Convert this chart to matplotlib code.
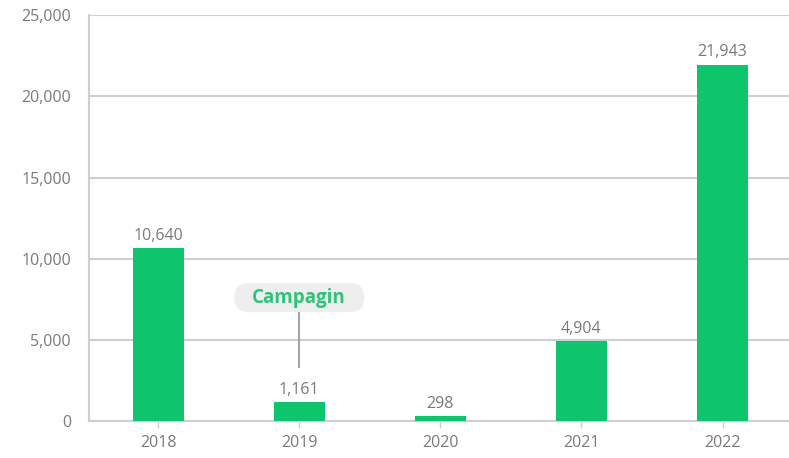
import matplotlib
matplotlib.use("Agg")
import matplotlib.pyplot as plt
import matplotlib.transforms as mtransforms
from matplotlib.patches import FancyBboxPatch
from matplotlib.ticker import FuncFormatter

years = ["2018", "2019", "2020", "2021", "2022"]
values = [10640, 1161, 298, 4904, 21943]
yticks = [0, 5000, 10000, 15000, 20000, 25000]
note_text = "Campagin"
note_index = 1

plt.rcParams['font.family'] = ['Open Sans', 'DejaVu Sans']

fig = plt.figure(figsize=(7.89, 4.58), dpi=100)
ax = fig.add_axes([0.1128, 0.0808, 0.887, 0.886])

green = "#0EC46D"
grid_c = "#cfcfcf"
txt_c = "#7a7a7a"

x = list(range(len(years)))
ax.bar(x, values, width=0.36, color=green, zorder=3)

for xi, v in zip(x, values):
    ax.text(xi, v + 280, f"{v:,}", ha="center", va="bottom", fontsize=11.5, color=txt_c, zorder=4)

ax.set_xlim(-0.49, 4.47)
ax.set_ylim(0, 25000)
ax.set_yticks(yticks)
ax.yaxis.set_major_formatter(FuncFormatter(lambda v, p: f"{int(v):,}"))
ax.set_xticks(x)
ax.set_xticklabels(years)

ax.grid(axis="y", color=grid_c, linewidth=1.5, zorder=0)
for s in ["top", "right"]:
    ax.spines[s].set_visible(False)
ax.spines["left"].set_color(grid_c)
ax.spines["left"].set_linewidth(1.5)
ax.spines["bottom"].set_color(grid_c)
ax.spines["bottom"].set_linewidth(1.5)
ax.spines["bottom"].set_zorder(2)

ax.tick_params(axis="y", length=0, pad=13, labelsize=11.5, labelcolor=txt_c)
ax.tick_params(axis="x", length=5, width=1, color=grid_c, pad=5, labelsize=11.5, labelcolor=txt_c)

# campaign annotation
note_y = 7600
ax.plot([note_index, note_index], [3320, 6800], color="#9a9a9a", linewidth=1.3, zorder=2)
trans = fig.dpi_scale_trans + mtransforms.ScaledTranslation(note_index, note_y, ax.transData)
pill = FancyBboxPatch((-0.65, -0.145), 1.3, 0.29,
                      boxstyle="round,pad=0,rounding_size=0.145",
                      fc="#eeeeee", ec="none", transform=trans, zorder=4)
ax.add_patch(pill)
ax.text(note_index, note_y, note_text, ha="center", va="center", fontsize=13.5,
        fontweight="bold", color="#2dc47a", zorder=5)

fig.savefig("out.png", dpi=100)
